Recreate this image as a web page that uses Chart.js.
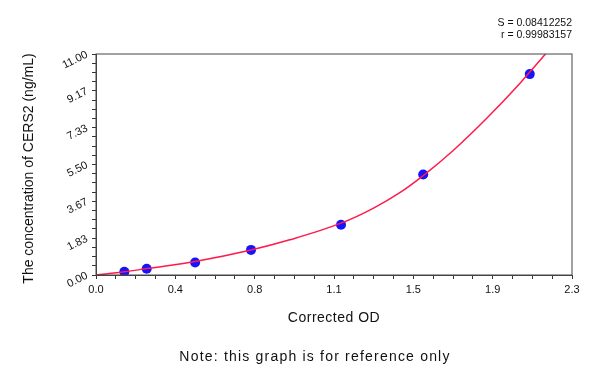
<!DOCTYPE html>
<html>
<head>
<meta charset="utf-8">
<title>CERS2 standard curve</title>
<script src="https://cdn.jsdelivr.net/npm/chart.js@4.4.1/dist/chart.umd.min.js"></script>
<style>
  html, body { margin: 0; padding: 0; background: #fff; }
  canvas { display: block; }
</style>
</head>
<body>
<canvas id="myChart" width="600" height="380"></canvas>
<script>
// standard points (corrected OD vs concentration)
const stdOD = [0.137, 0.245, 0.479, 0.749, 1.184, 1.581, 2.096];
const stdConc = [0.156, 0.3125, 0.625, 1.25, 2.5, 5, 10];

// fitted curve
const curveOD = [0, 0.137, 0.245, 0.479, 0.749, 0.936, 1.184, 1.339, 1.468, 1.581, 1.726, 1.888, 2.049, 2.172];
const curveConc = [0, 0.16, 0.32, 0.67, 1.24, 1.75, 2.58, 3.32, 4.1, 4.95, 6.2, 7.8, 9.55, 11.0];

const xTickLabels = ['0.0', '0.4', '0.8', '1.1', '1.5', '1.9', '2.3'];
const yTickLabels = ['0.00', '1.83', '3.67', '5.50', '7.33', '9.17', '11.00'];
const xMax = 2.3;
const yMax = 11;

const xTitle = 'Corrected OD';
const yTitle = 'The concentration of CERS2 (ng/mL)';
const fitStats = ['S = 0.08412252', 'r = 0.99983157'];
const note = 'Note: this graph is for reference only';

const FONT = '"Liberation Sans", Arial, sans-serif';
const minorPerMajor = 4;

// 4 sub-divisions between each labelled tick
function tickValues(max, labels) {
    const n = (labels.length - 1) * minorPerMajor;
    const out = [];
    for (let i = 0; i <= n; i++) out.push({ value: max * i / n });
    return out;
}

// frame round the plot + titles, stats and footnote
const frameAndText = {
    id: 'frameAndText',
    afterDatasetsDraw(chart) {
        const { ctx, chartArea } = chart;
        const midX = (chartArea.left + chartArea.right) / 2;
        const midY = (chartArea.top + chartArea.bottom) / 2;
        ctx.save();
        ctx.strokeStyle = '#444';
        ctx.lineWidth = 1;
        ctx.strokeRect(chartArea.left, chartArea.top,
            chartArea.right - chartArea.left, chartArea.bottom - chartArea.top);

        ctx.fillStyle = '#111';
        ctx.textBaseline = 'middle';

        ctx.font = '10.5px ' + FONT;
        ctx.textAlign = 'right';
        ctx.fillText(fitStats[0], chartArea.right, 23.5);
        ctx.fillText(fitStats[1], chartArea.right, 35);

        ctx.textAlign = 'center';
        ctx.font = '14px ' + FONT;
        ctx.letterSpacing = '0.5px';
        ctx.fillText(xTitle, midX, 318);

        ctx.letterSpacing = '1.2px';
        ctx.fillText(note, 315, 357);

        ctx.letterSpacing = '0px';
        ctx.translate(29, midY + 4);
        ctx.rotate(-Math.PI / 2);
        ctx.fillText(yTitle, 0, 0);
        ctx.restore();
    }
};

const ctx = document.getElementById('myChart');

new Chart(ctx, {
    type: 'scatter',
    data: {
        datasets: [{
            type: 'line',
            label: 'fit',
            data: curveOD.map((x, i) => ({ x: x, y: curveConc[i] })),
            borderColor: '#ff1a4a',
            borderWidth: 1.5,
            pointRadius: 0,
            cubicInterpolationMode: 'monotone',
            fill: false,
            order: 1
        }, {
            label: 'standards',
            data: stdOD.map((x, i) => ({ x: x, y: stdConc[i] })),
            backgroundColor: '#1414ff',
            borderWidth: 0,
            pointRadius: 5,
            order: 2
        }]
    },
    options: {
        responsive: false,
        animation: false,
        layout: { padding: { left: 0, right: 28, top: 54, bottom: 50 } },
        plugins: {
            legend: { display: false },
            tooltip: { enabled: false }
        },
        scales: {
            x: {
                type: 'linear',
                min: 0,
                max: xMax,
                afterBuildTicks: scale => { scale.ticks = tickValues(xMax, xTickLabels); },
                afterFit: scale => { scale.height = 55; },
                grid: { drawOnChartArea: false, tickLength: 4, tickColor: '#333' },
                border: { color: '#444' },
                ticks: {
                    autoSkip: false,
                    maxRotation: 0,
                    padding: 4,
                    color: '#111',
                    font: { family: FONT, size: 11 },
                    callback: (v, i) => i % minorPerMajor === 0 ? xTickLabels[i / minorPerMajor] : ''
                }
            },
            y: {
                type: 'linear',
                min: 0,
                max: yMax,
                afterBuildTicks: scale => { scale.ticks = tickValues(yMax, yTickLabels); },
                afterFit: scale => { scale.width = 96; },
                grid: { drawOnChartArea: false, tickLength: 4, tickColor: '#333' },
                border: { color: '#444' },
                ticks: {
                    autoSkip: false,
                    minRotation: 27,
                    maxRotation: 27,
                    padding: 5,
                    color: '#111',
                    font: { family: FONT, size: 11 },
                    callback: (v, i) => i % minorPerMajor === 0 ? yTickLabels[i / minorPerMajor] : ''
                }
            }
        }
    },
    plugins: [frameAndText]
});
</script>
</body>
</html>
